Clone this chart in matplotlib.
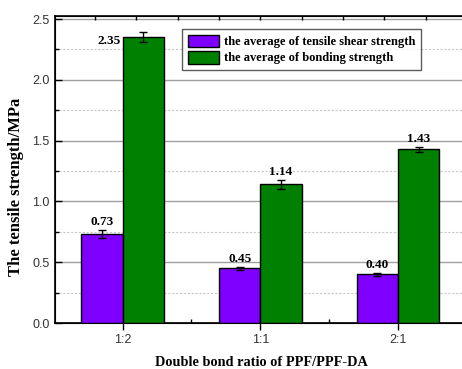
import numpy as np
import matplotlib.pyplot as plt
from matplotlib.ticker import MultipleLocator, FixedLocator

# ratio groups and measured strengths (MPa)
ratios = ['1:2', '1:1', '2:1']
shear_mean = [0.73, 0.45, 0.40]
shear_err = [0.035, 0.012, 0.015]
bond_mean = [2.35, 1.14, 1.43]
bond_err = [0.04, 0.04, 0.02]

serif = 'Liberation Serif'
sans = 'Liberation Sans'

fig = plt.figure(figsize=(4.62, 3.69), dpi=100)
ax = fig.add_axes([55 / 462, 46 / 369, 412 / 462, 307 / 369])

x = np.arange(len(ratios))
w = 0.3
ax.bar(x - w / 2, shear_mean, w, color='#8000ff', edgecolor='black', linewidth=1.0,
       label='the average of tensile shear strength', zorder=3)
ax.bar(x + w / 2, bond_mean, w, color='#008000', edgecolor='black', linewidth=1.0,
       label='the average of bonding strength', zorder=3)
ax.errorbar(x - w / 2, shear_mean, yerr=shear_err, fmt='none', ecolor='black',
            elinewidth=1, capsize=3, capthick=1, zorder=4)
ax.errorbar(x + w / 2, bond_mean, yerr=bond_err, fmt='none', ecolor='black',
            elinewidth=1, capsize=3, capthick=1, zorder=4)

# value labels
vfont = dict(fontsize=9.5, fontweight='bold', family=serif, zorder=5)
for i in range(len(ratios)):
    ax.text(x[i] - w / 2, shear_mean[i] + shear_err[i] + 0.015, '%.2f' % shear_mean[i],
            ha='center', va='bottom', **vfont)
    if i == 0:
        # tall bar sits next to the legend, so its label goes on the left
        ax.text(x[i] - 0.01, bond_mean[i] - 0.03, '%.2f' % bond_mean[i],
                ha='right', va='center', **vfont)
    else:
        ax.text(x[i] + w / 2, bond_mean[i] + bond_err[i] + 0.015, '%.2f' % bond_mean[i],
                ha='center', va='bottom', **vfont)

ax.set_xlim(-0.49, 2.5)
ax.set_ylim(0, 2.525)
ax.set_xticks(x)
ax.set_xticklabels(ratios, family=sans, fontsize=9, color='#333333')
ax.xaxis.set_minor_locator(FixedLocator([0.5, 1.5]))
ax.yaxis.set_major_locator(MultipleLocator(0.5))
ax.yaxis.set_minor_locator(MultipleLocator(0.25))
ax.yaxis.set_major_formatter(plt.FormatStrFormatter('%.1f'))
for lab in ax.get_yticklabels():
    lab.set_family(sans)
    lab.set_fontsize(9)
    lab.set_color('#333333')

ax.tick_params(axis='y', which='major', direction='in', length=5, width=1, pad=4)
ax.tick_params(axis='y', which='minor', direction='in', length=3, width=1)
ax.tick_params(axis='x', which='major', direction='out', length=5, width=1, pad=3)
ax.tick_params(axis='x', which='minor', direction='in', length=3, width=1)

ax.grid(axis='y', which='major', color='#a0a0a0', linewidth=1.0, zorder=0)
ax.grid(axis='y', which='minor', color='#c8c8c8', linewidth=0.8, linestyle=(0, (2, 1.5)), zorder=0)
for s in ax.spines.values():
    s.set_linewidth(1.2)

# top axis ticks
top = ax.twiny()
top.set_xlim(ax.get_xlim())
top.set_xticks(np.arange(-0.2, 2.6, 0.3))
top.tick_params(axis='x', direction='in', length=3, width=1, labeltop=False)

fig.text(16 / 462, 1 - 187 / 369, 'The tensile strength/MPa', rotation=90, ha='center', va='center',
         family=serif, fontweight='bold', fontsize=12)
fig.text(261 / 462, 1 - 362 / 369, 'Double bond ratio of PPF/PPF-DA', ha='center', va='center',
         family=serif, fontweight='bold', fontsize=10.3)

leg = ax.legend(loc='upper left', bbox_to_anchor=(127 / 412, 1 - 13 / 307), frameon=True,
                fancybox=False, prop={'family': serif, 'weight': 'bold', 'size': 9},
                handlelength=2.5, handleheight=1.2, handletextpad=0.4, borderpad=0.45,
                labelspacing=0.2, borderaxespad=0)
leg.get_frame().set_edgecolor('#333333')
leg.get_frame().set_linewidth(1.0)
leg.set_zorder(6)

fig.savefig('out.png', dpi=100)
